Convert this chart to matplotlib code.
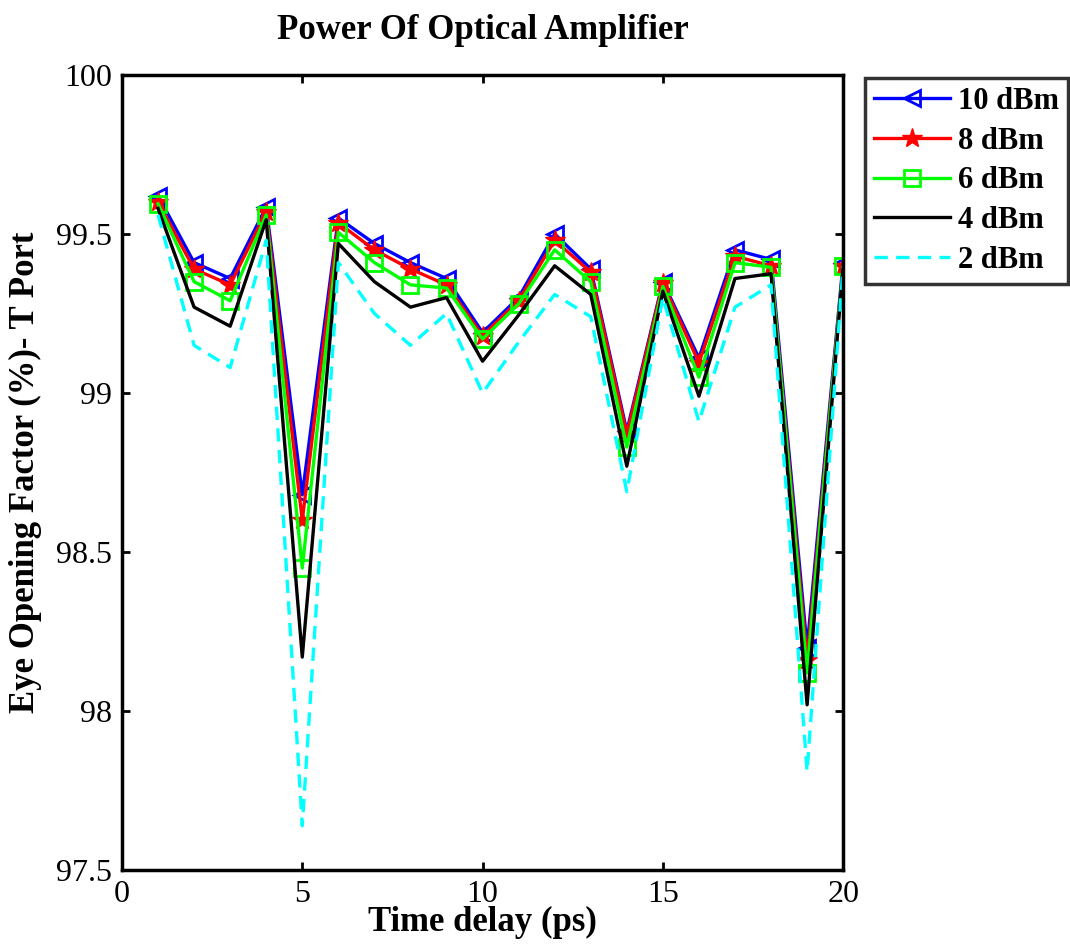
import numpy as np
from matplotlib import pyplot as plt

delay = np.arange(1, 21)
p10 = [99.62, 99.41, 99.36, 99.585, 98.68, 99.55, 99.47, 99.41, 99.36, 99.19,
       99.30, 99.50, 99.39, 98.88, 99.35, 99.11, 99.45, 99.42, 98.20, 99.41]
p8 = [99.60, 99.39, 99.34, 99.57, 98.60, 99.535, 99.45, 99.39, 99.34, 99.18,
      99.29, 99.48, 99.38, 98.87, 99.345, 99.095, 99.43, 99.40, 98.16, 99.40]
p6 = [99.595, 99.35, 99.29, 99.56, 98.45, 99.505, 99.41, 99.34, 99.33, 99.17,
      99.28, 99.45, 99.35, 98.83, 99.335, 99.05, 99.41, 99.395, 98.12, 99.40]
p4 = [99.58, 99.27, 99.21, 99.545, 98.17, 99.47, 99.35, 99.27, 99.30, 99.10,
      99.245, 99.40, 99.31, 98.77, 99.32, 98.99, 99.36, 99.375, 98.02, 99.40]
p2 = [99.56, 99.15, 99.08, 99.48, 97.64, 99.41, 99.25, 99.15, 99.25, 99.00,
      99.16, 99.31, 99.24, 98.69, 99.30, 98.91, 99.27, 99.34, 97.81, 99.40]

plt.rcParams['font.family'] = ['Liberation Serif', 'DejaVu Serif']

fig = plt.figure(figsize=(10.7, 9.48), dpi=100)
ax = fig.add_axes([0.114, 0.082, 0.674, 0.839])

lw = 2.4
ax.plot(delay, p10, color='blue', lw=lw, marker='<', ms=12, mfc='none', mew=2, label='10 dBm')
ax.plot(delay, p8, color='red', lw=lw, marker='*', ms=15, label='8 dBm')
ax.plot(delay, p6, color='#00ff00', lw=lw, marker='s', ms=11, mfc='none', mew=2, label='6 dBm')
ax.plot(delay, p4, color='black', lw=lw, label='4 dBm')
ax.plot(delay, p2, color='cyan', lw=lw, ls=(0, (4, 2.5)), label='2 dBm')

ax.set_xlim(0, 20)
ax.set_ylim(97.5, 100)
ax.set_xticks([0, 5, 10, 15, 20])
ax.set_yticks([97.5, 98, 98.5, 99, 99.5, 100])
ax.set_yticklabels(['97.5', '98', '98.5', '99', '99.5', '100'])
ax.tick_params(direction='in', labelsize=23, width=2, length=6, top=True, right=True, pad=7)
for s in ax.spines.values():
    s.set_linewidth(2.5)

ax.set_title('Power Of Optical Amplifier', fontsize=25, fontweight='bold', pad=26)
ax.set_xlabel('Time delay (ps)', fontsize=25, fontweight='bold', labelpad=-2)
ax.set_ylabel('Eye Opening Factor (%)- T Port', fontsize=25, fontweight='bold', labelpad=10)

leg = ax.legend(loc='upper left', bbox_to_anchor=(0.808, 0.918), bbox_transform=fig.transFigure,
                prop={'size': 22, 'weight': 'bold'}, frameon=True, fancybox=False,
                edgecolor='black', handlelength=2.5, handletextpad=0.25, labelspacing=0.35,
                borderaxespad=0, borderpad=0.3)
leg.get_frame().set_linewidth(2.5)

fig.savefig('out.png', dpi=100)
